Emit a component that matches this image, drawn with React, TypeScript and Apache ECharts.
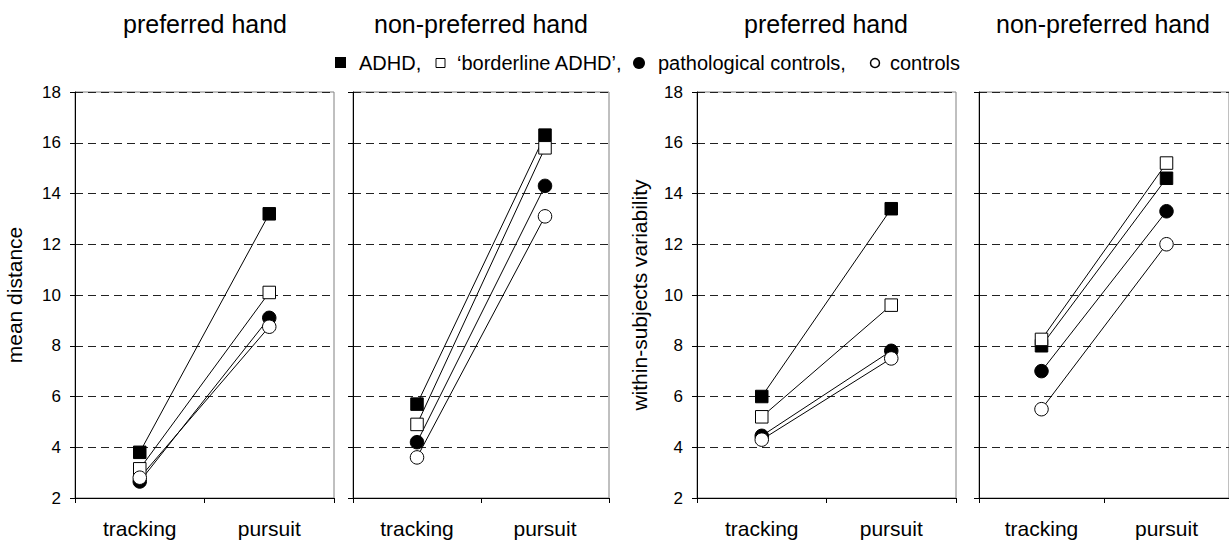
import React, { useEffect, useRef } from "react";
import * as echarts from "echarts";

const categories = ["tracking", "pursuit"];
const yTicks = { min: 2, max: 18, interval: 2 };

// mean distance, preferred hand
const adhdMeanPref = [3.8, 13.2];
const borderMeanPref = [3.15, 10.1];
const pathMeanPref = [2.65, 9.1];
const ctrlMeanPref = [2.8, 8.75];
// mean distance, non-preferred hand
const adhdMeanNon = [5.7, 16.3];
const borderMeanNon = [4.9, 15.8];
const pathMeanNon = [4.2, 14.3];
const ctrlMeanNon = [3.6, 13.1];
// within-subjects variability, preferred hand
const adhdVarPref = [6.0, 13.4];
const borderVarPref = [5.2, 9.6];
const pathVarPref = [4.45, 7.8];
const ctrlVarPref = [4.3, 7.5];
// within-subjects variability, non-preferred hand
const adhdVarNon = [8.0, 14.6];
const borderVarNon = [8.25, 15.2];
const pathVarNon = [7.0, 13.3];
const ctrlVarNon = [5.5, 12.0];

const panelTitles = ["preferred hand", "non-preferred hand", "preferred hand", "non-preferred hand"];
const yNames = ["mean distance", "", "within-subjects variability", ""];
const groupNames = ["ADHD", "‘borderline ADHD’", "pathological controls", "controls"];

const panels = [
  [adhdMeanPref, borderMeanPref, pathMeanPref, ctrlMeanPref],
  [adhdMeanNon, borderMeanNon, pathMeanNon, ctrlMeanNon],
  [adhdVarPref, borderVarPref, pathVarPref, ctrlVarPref],
  [adhdVarNon, borderVarNon, pathVarNon, ctrlVarNon],
];

const FONT = "'Liberation Sans', Arial, sans-serif";

export default function App() {
  const ref = useRef<HTMLDivElement>(null);
  useEffect(() => {
    if (!ref.current) return;
    const chart = echarts.init(ref.current, null, { renderer: "svg" });
    const gridBoxes = [
      { left: 75, top: 92, width: 259, height: 406 },
      { left: 353, top: 92, width: 256, height: 406 },
      { left: 697, top: 92, width: 259, height: 406 },
      { left: 979, top: 92, width: 258, height: 406 },
    ];
    const symbols = ["rect", "rect", "circle", "circle"];
    const fills = ["#000", "#fff", "#000", "#fff"];
    const series: any[] = [];
    panels.forEach((groups, p) => {
      groups.forEach((vals, g) => {
        series.push({
          type: "line",
          name: groupNames[g],
          xAxisIndex: p,
          yAxisIndex: p,
          data: vals,
          symbol: symbols[g],
          symbolSize: g < 2 ? 12.5 : 13.5,
          showAllSymbol: true,
          lineStyle: { color: "#000", width: 1 },
          itemStyle: { color: fills[g], borderColor: "#000", borderWidth: 1, opacity: 1 },
        });
      });
    });
    const titleX = [205, 481, 826, 1103];
    const graphic: any[] = panelTitles.map((t, i) => ({
      type: "text",
      x: titleX[i],
      y: 24,
      style: { text: t, font: `25px ${FONT}`, fill: "#000", textAlign: "center", textVerticalAlign: "middle" },
    }));
    const ly = 63;
    graphic.push(
      { type: "rect", shape: { x: 335, y: ly - 6, width: 11, height: 11 }, style: { fill: "#000" } },
      { type: "text", x: 359, y: ly, style: { text: groupNames[0] + ",", font: `20px ${FONT}`, fill: "#000", textVerticalAlign: "middle" } },
      { type: "rect", shape: { x: 436, y: ly - 4.5, width: 9, height: 9 }, style: { fill: "#fff", stroke: "#000", lineWidth: 1 } },
      { type: "text", x: 457, y: ly, style: { text: groupNames[1] + ",", font: `20px ${FONT}`, fill: "#000", textVerticalAlign: "middle" } },
      { type: "circle", shape: { cx: 639, cy: ly, r: 6 }, style: { fill: "#000" } },
      { type: "text", x: 658, y: ly, style: { text: groupNames[2] + ",", font: `20px ${FONT}`, fill: "#000", textVerticalAlign: "middle" } },
      { type: "circle", shape: { cx: 875, cy: ly, r: 4.5 }, style: { fill: "#fff", stroke: "#000", lineWidth: 1.5 } },
      { type: "text", x: 890, y: ly, style: { text: groupNames[3], font: `20px ${FONT}`, fill: "#000", textVerticalAlign: "middle" } }
    );
    chart.setOption({
      animation: false,
      backgroundColor: "#fff",
      textStyle: { fontFamily: FONT },
      grid: gridBoxes.map((b) => ({ ...b, show: true, borderColor: "#808080", borderWidth: 1, backgroundColor: "transparent" })),
      xAxis: gridBoxes.map((_, i) => ({
        type: "category",
        gridIndex: i,
        data: categories,
        boundaryGap: true,
        axisLine: { show: true, lineStyle: { color: "#000", width: 1 } },
        axisTick: { show: true, length: 5, lineStyle: { color: "#000" } },
        axisLabel: { color: "#000", fontSize: 21, margin: 20, fontFamily: FONT },
        splitLine: { show: false },
      })),
      yAxis: gridBoxes.map((_, i) => ({
        type: "value",
        gridIndex: i,
        min: yTicks.min,
        max: yTicks.max,
        interval: yTicks.interval,
        name: yNames[i],
        nameLocation: "middle",
        nameGap: i === 0 ? 50 : 47,
        nameTextStyle: { color: "#000", fontSize: 21, fontFamily: FONT },
        axisLine: { show: true, lineStyle: { color: "#000", width: 1 } },
        axisTick: { show: true, length: 5, lineStyle: { color: "#000" } },
        axisLabel: { show: i % 2 === 0, color: "#000", fontSize: 17, margin: 14, fontFamily: FONT },
        splitLine: { show: true, lineStyle: { color: "#222", width: 1, type: [8, 5] } },
      })),
      series,
      graphic,
    });
    return () => chart.dispose();
  }, []);
  return <div ref={ref} style={{ position: "absolute", left: 0, top: 0, width: 1229, height: 544 }} />;
}
